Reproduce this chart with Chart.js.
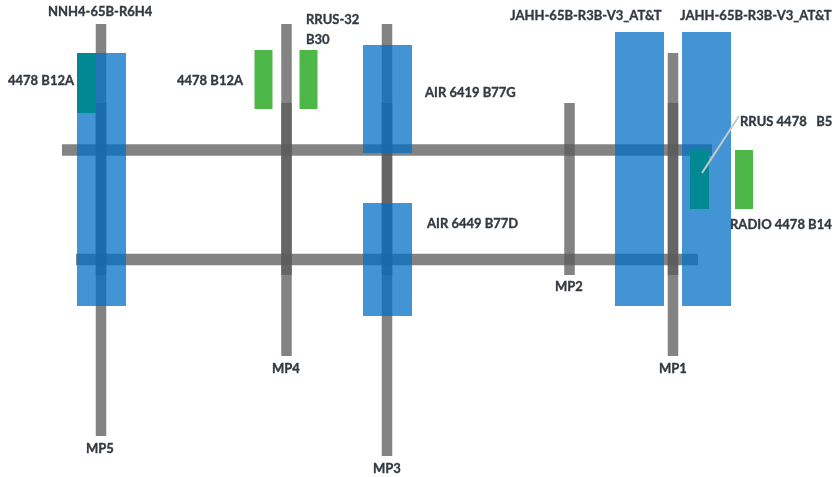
<!DOCTYPE html>
<html>
<head>
<meta charset="utf-8">
<style>html,body{margin:0;padding:0;background:#fff}canvas{display:block}</style>
<script src="https://cdn.jsdelivr.net/npm/chart.js@4/dist/chart.umd.js"></script>
</head>
<body>
<canvas id="c" width="836" height="477"></canvas>
<script>
// Vertical masts
const mastNames = ["MP5","MP4","MP3","MP1"];
const mastX = [101, 286.5, 387, 673];
const mastTop = [24, 24, 24, 53];
const mastBottom = [436, 356, 456, 356];
// Shared darker section of every mast, incl. MP2
const sectionX = [101, 286.5, 387, 569.5, 673];
const sectionTop = [103, 103, 103, 103, 103];
const sectionBottom = [275, 275, 275, 275, 275];
// Horizontal pipes
const pipeY = [150, 259.5];
const pipeStart = [62, 76];
const pipeEnd = [712, 698];
// Antennas (blue panels)
const panelX = [101.5, 387.5, 387.5, 639.5, 706.5];
const panelTop = [53, 45, 203, 32, 32];
const panelBottom = [306, 153, 316, 306, 306];
// Green radios
const radioX = [263.5, 308.5, 744];
const radioTop = [50, 50, 150];
const radioBottom = [109, 109, 209];
// Teal radios
const tealX = [86.5, 699.5];
const tealTop = [53, 150];
const tealBottom = [113, 209];
// Leader line
const leaderX = [702, 739];
const leaderY = [173, 116];
// Labels
const labelText = ["NNH4-65B-R6H4","4478 B12A","4478 B12A","RRUS-32","B30","AIR 6419 B77G","AIR 6449 B77D","JAHH-65B-R3B-V3_AT&T","JAHH-65B-R3B-V3_AT&T","RRUS 4478   B5","RADIO 4478 B14","MP5","MP4","MP3","MP2","MP1"];
const labelX = [48,8,177,306,306,425,427,510,680,740,730,86,272,373,555,659];
const labelY = [12,81,81,20,40,93,224,16,16,122,225,449,369,469,287,369];

const GREY = "rgba(92,92,92,0.76)";
const BLUE = "rgba(0,111,197,0.74)";
const GREEN = "#4db848";
const TEAL = "#008893";

function vbars(xs, tops, bottoms, color, w) {
  return xs.map((x, i) => ({
    data: [{x: x, y: tops[i]}, {x: x, y: bottoms[i]}],
    borderColor: color, borderWidth: w
  }));
}
function hbars(ys, starts, ends, color, w) {
  return ys.map((y, i) => ({
    data: [{x: starts[i], y: y}, {x: ends[i], y: y}],
    borderColor: color, borderWidth: w
  }));
}
// painted bottom to top
const layers = [].concat(
  vbars(mastX, mastTop, mastBottom, GREY, 10.5),
  hbars(pipeY, pipeStart, pipeEnd, GREY, 11.5),
  vbars(sectionX, sectionTop, sectionBottom, GREY, 10.5),
  vbars(panelX, panelTop, panelBottom, BLUE, 49),
  vbars(radioX, radioTop, radioBottom, GREEN, 18),
  vbars(tealX, tealTop, tealBottom, TEAL, 19),
  [{data: [{x: leaderX[0], y: leaderY[0]}, {x: leaderX[1], y: leaderY[1]}], borderColor: "#c9c9c9", borderWidth: 2}]
);
layers.forEach((d, i) => {
  d.showLine = true; d.pointRadius = 0; d.borderCapStyle = "butt"; d.clip = false; d.order = layers.length - i;
});

const labelPlugin = {
  id: "labels",
  afterDatasetsDraw(chart) {
    const ctx = chart.ctx, sx = chart.scales.x, sy = chart.scales.y;
    ctx.save();
    ctx.font = "bold 13px Lato";
    ctx.fillStyle = "#333a42";
    ctx.strokeStyle = "#333a42";
    ctx.lineWidth = 0.35;
    ctx.lineJoin = "round";
    ctx.textBaseline = "middle";
    ctx.textAlign = "left";
    labelText.forEach((t, i) => {
      const px = sx.getPixelForValue(labelX[i]), py = sy.getPixelForValue(labelY[i]);
      ctx.fillText(t, px, py);
      ctx.strokeText(t, px, py);
    });
    ctx.restore();
  }
};

new Chart(document.getElementById("c"), {
  type: "scatter",
  data: {datasets: layers},
  options: {
    responsive: false, animation: false, devicePixelRatio: 1,
    layout: {padding: 0},
    plugins: {legend: {display: false}, tooltip: {enabled: false}},
    scales: {
      x: {type: "linear", min: 0, max: 836, display: false},
      y: {type: "linear", min: 0, max: 477, reverse: true, display: false}
    }
  },
  plugins: [labelPlugin]
});
</script>
</body>
</html>
